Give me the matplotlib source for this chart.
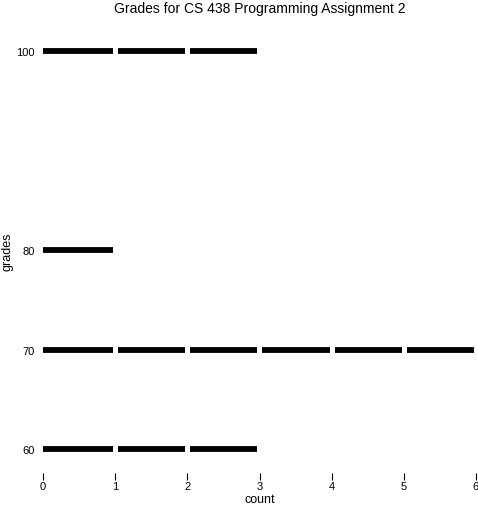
import matplotlib
matplotlib.use("Agg")
import matplotlib.pyplot as plt

# grades and how many students got each one
grades = [100, 80, 70, 60]
counts = [3, 1, 6, 3]
xticks = [0, 1, 2, 3, 4, 5, 6]

plt.rcParams['font.family'] = ['Liberation Sans', 'DejaVu Sans']

fig = plt.figure(figsize=(4.78, 5.06), dpi=100)
ax = fig.add_axes([43 / 478, 32 / 506, 433 / 478, 444 / 506])

# one separate dash per student
for g, c in zip(grades, counts):
    for k in range(c):
        start = k + (0.04 if k > 0 else 0.0)
        ax.plot([start, k + 0.97], [g, g], color='black', linewidth=4.2,
                solid_capstyle='butt')

ax.set_xlim(0, 6)
ax.set_ylim(57.59, 102.21)
ax.set_xticks(xticks)
ax.set_yticks(grades)
ax.set_yticklabels([str(g) for g in grades])

for s in ax.spines.values():
    s.set_visible(False)

ax.tick_params(axis='x', length=5, width=0.8, pad=1, labelsize=8)
ax.tick_params(axis='y', length=0, pad=6, labelsize=8)

ax.set_xlabel('count', fontsize=9, labelpad=1.5)
ax.set_ylabel('grades', fontsize=9, labelpad=2)
ax.set_title('Grades for CS 438 Programming Assignment 2', fontsize=10, pad=12)

fig.savefig('out.png', dpi=100)
